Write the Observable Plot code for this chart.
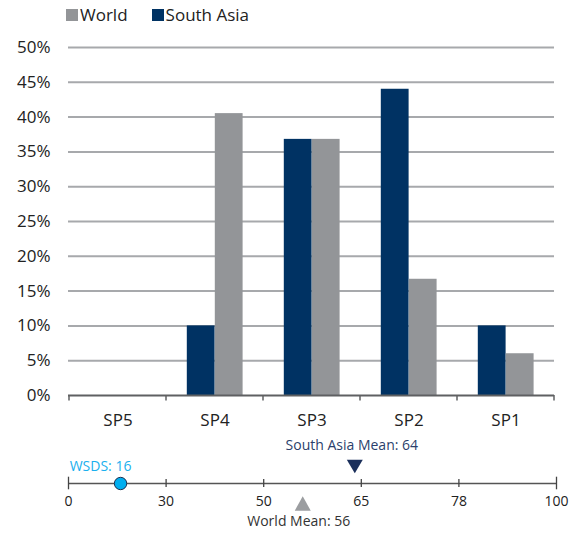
<!DOCTYPE html>
<html>
<head>
<meta charset="utf-8">
<script src="https://cdn.jsdelivr.net/npm/d3@7"></script>
<script src="https://cdn.jsdelivr.net/npm/@observablehq/plot@0.6"></script>
<style>
  html, body { margin: 0; padding: 0; background: #fff; }
  #chart { width: 579px; font-family: "Open Sans", "Noto Sans", sans-serif; }
  #legend { height: 30px; display: flex; align-items: center; padding-left: 66px; box-sizing: border-box;
            font-size: 17px; color: #222; padding-bottom: 1px; }
  #legend .item { display: flex; align-items: center; margin-right: 24px; }
  #legend .sw { width: 12px; height: 12px; margin-right: 2px; display: inline-block; }
  svg { display: block; }
  .bars text { font-size: 17px; fill: #222; }
</style>
</head>
<body>
<div id="chart">
  <div id="legend"></div>
</div>
<script>
// ---- data ----
const categories = ["SP5", "SP4", "SP3", "SP2", "SP1"];
const seriesNames = ["World", "South Asia"];
const seriesColors = ["#939598", "#003263"];
const southAsia = [0, 10, 36.8, 44, 10];
const world = [0, 40.5, 36.8, 16.7, 6];
const scaleTicks = [0, 30, 50, 65, 78, 100];
const wsds = 16;
const southAsiaMean = 64;
const worldMean = 56;

// ---- legend ----
const legend = document.getElementById("legend");
seriesNames.forEach((name, i) => {
  const item = document.createElement("span");
  item.className = "item";
  const sw = document.createElement("span");
  sw.className = "sw";
  sw.style.background = seriesColors[i];
  item.appendChild(sw);
  item.appendChild(document.createTextNode(name));
  legend.appendChild(item);
});

const saRows = categories.map((c, i) => ({cat: c, v: southAsia[i]}));
const worldRows = categories.map((c, i) => ({cat: c, v: world[i]}));

const W = 579, ML = 68, MR = 25;

// boundary ticks under the baseline
const boundaryTicks = (index, scales, values, dims) => {
  const {x, y} = scales;
  const bw = x.bandwidth ? x.bandwidth() : (dims.width - dims.marginLeft - dims.marginRight) / categories.length;
  const edges = categories.map(c => x(c)).concat([x(categories[categories.length - 1]) + bw]);
  const g = d3.create("svg:g");
  g.selectAll("line").data(edges).join("line")
    .attr("x1", d => d).attr("x2", d => d)
    .attr("y1", y(0)).attr("y2", y(0) + 5.5)
    .attr("stroke", "#5f6062").attr("stroke-width", 1.5);
  return g.node();
};

const bars = Plot.plot({
  className: "bars",
  width: W, height: 405,
  marginTop: 17, marginBottom: 40, marginLeft: ML, marginRight: MR,
  style: {fontFamily: "'Open Sans', 'Noto Sans', sans-serif", fontSize: "17px", color: "#222", background: "#fff"},
  x: {domain: categories, padding: 0, label: null, tickSize: 0, tickPadding: 18},
  y: {domain: [0, 50], ticks: 10, tickFormat: d => d + "%", label: null, tickSize: 0, tickPadding: 18},
  marks: [
    Plot.ruleY(d3.range(5, 51, 5), {stroke: "#a7a9ac", strokeWidth: 2}),
    Plot.barY(saRows, {x: "cat", y: "v", fill: seriesColors[1], insetLeft: 20.8, insetRight: 48.4}),
    Plot.barY(worldRows, {x: "cat", y: "v", fill: seriesColors[0], insetLeft: 48.8, insetRight: 20.4}),
    Plot.ruleY([0], {stroke: "#5f6062", strokeWidth: 2}),
    boundaryTicks
  ]
});
document.getElementById("chart").appendChild(bars);

// ---- number line (piecewise scale: equal spacing between the tick values) ----
const NL = 68, NR = 23;
const endTicks = [scaleTicks[0], scaleTicks[scaleTicks.length - 1]];
const innerTicks = scaleTicks.slice(1, -1);

const triDown = {draw(ctx, size) {
  const r = Math.sqrt(size / Math.PI), h = 1.68 * r;
  ctx.moveTo(-r, -h / 2); ctx.lineTo(r, -h / 2); ctx.lineTo(0, h / 2); ctx.closePath();
}};
const triUp = {draw(ctx, size) {
  const r = Math.sqrt(size / Math.PI), h = 1.8 * r;
  ctx.moveTo(-r, h / 2); ctx.lineTo(r, h / 2); ctx.lineTo(0, -h / 2); ctx.closePath();
}};

const line = Plot.plot({
  width: W, height: 100,
  marginTop: 44, marginBottom: 48, marginLeft: NL, marginRight: NR,
  style: {fontFamily: "'Open Sans', 'Noto Sans', sans-serif", fontSize: "14px", color: "#222", background: "#fff"},
  x: {type: "linear", domain: scaleTicks, range: [NL, W - NR], axis: null},
  y: {domain: [-1, 1], axis: null},
  marks: [
    Plot.ruleY([0], {stroke: "#555", strokeWidth: 1.5}),
    Plot.ruleX(innerTicks, {x: d => d, stroke: "#444", strokeWidth: 1.3}),
    Plot.ruleX(endTicks, {x: d => d, stroke: "#444", strokeWidth: 1.3, insetTop: -2.3, insetBottom: -2.3}),
    Plot.text(scaleTicks, {x: d => d, text: d => String(d), frameAnchor: "bottom", lineAnchor: "top", dy: 9, fontSize: 14, fill: "#222"}),
    Plot.text([wsds], {x: d => d, text: d => `WSDS: ${d}`, frameAnchor: "middle", dy: -16.5, dx: -20, fontSize: 14, fill: "#1ab0ee"}),
    Plot.dot([wsds], {x: d => d, frameAnchor: "middle", r: 6.2, fill: "#00aeef", stroke: "#1d3050", strokeWidth: 1}),
    Plot.text([southAsiaMean], {x: d => d, text: d => `South Asia Mean: ${d}`, frameAnchor: "middle", dy: -38, dx: -3, fontSize: 14, fill: "#2b3f6c"}),
    Plot.dot([southAsiaMean], {x: d => d, frameAnchor: "middle", dy: -17, symbol: triDown, r: 8, fill: "#1b2f5b", stroke: "none"}),
    Plot.dot([worldMean], {x: d => d, frameAnchor: "middle", dy: 20, symbol: triUp, r: 8, fill: "#9b9da0", stroke: "none"}),
    Plot.text([worldMean], {x: d => d, text: d => `World Mean: ${d}`, frameAnchor: "middle", dy: 38.5, dx: -4, fontSize: 14, fill: "#333"})
  ]
});
document.getElementById("chart").appendChild(line);
</script>
</body>
</html>
